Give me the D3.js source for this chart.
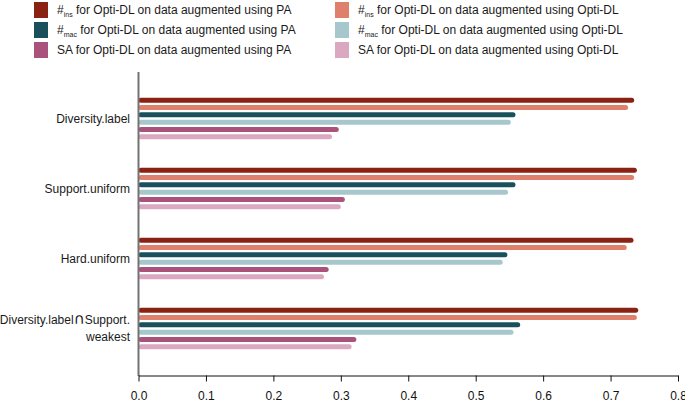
<!DOCTYPE html>
<html>
<head>
<meta charset="utf-8">
<script src="https://cdn.jsdelivr.net/npm/d3@7"></script>
<style>
  html, body { margin: 0; padding: 0; background: #fff; }
  svg { display: block; font-family: "Liberation Sans", Arial, Helvetica, sans-serif; }
</style>
</head>
<body>
<svg id="chart" width="685" height="401"></svg>
<script>
// ---- data ----
const categories = ["Diversity.label", "Support.uniform", "Hard.uniform", "Diversity.label\u2229Support.|weakest"];
const insPA   = [0.735, 0.739, 0.734, 0.741];
const insOpti = [0.726, 0.735, 0.724, 0.739];
const macPA   = [0.559, 0.559, 0.547, 0.566];
const macOpti = [0.552, 0.548, 0.540, 0.556];
const saPA    = [0.297, 0.306, 0.282, 0.323];
const saOpti  = [0.287, 0.300, 0.275, 0.316];
const seriesKeys = ["insPA", "insOpti", "macPA", "macOpti", "saPA", "saOpti"];
const seriesValues = [insPA, insOpti, macPA, macOpti, saPA, saOpti];
const seriesColors = ["#8a2213", "#de806c", "#1a505c", "#a6c7cc", "#a8527c", "#daa8c1"];
const legendMetric = ["#", "#", "SA"];
const legendSub = ["ins", "mac", ""];
const legendSuffix = ["PA", "Opti-DL"];
const xTicks = [0, 0.1, 0.2, 0.3, 0.4, 0.5, 0.6, 0.7, 0.8];

const svg = d3.select("#chart");
const x = d3.scaleLinear().domain([0, 0.8]).range([138.5, 678]);
const y = d3.scaleBand().domain(categories).range([72, 375]).paddingInner(0).paddingOuter(0.164);
const yInner = d3.scaleBand().domain(seriesKeys).range([-22, 22]);
const barH = 5;

// bars
seriesKeys.forEach((key, si) => {
  svg.append("g").selectAll("rect")
    .data(categories.map((c, ci) => ({ c, v: seriesValues[si][ci] })))
    .join("rect")
    .attr("x", x(0))
    .attr("y", d => y(d.c) + y.bandwidth() / 2 + yInner(key) + yInner.bandwidth() / 2 - barH / 2)
    .attr("width", d => x(d.v) - x(0))
    .attr("height", barH)
    .attr("rx", 2.5).attr("ry", 2.5)
    .attr("fill", seriesColors[si]);
});

// y axis line
svg.append("line")
  .attr("x1", x(0)).attr("x2", x(0))
  .attr("y1", 72).attr("y2", 376)
  .attr("stroke", "#737373").attr("stroke-width", 2);

// category labels
categories.forEach(c => {
  const lines = c.split("|");
  const cy = y(c) + y.bandwidth() / 2;
  const t = svg.append("text")
    .attr("text-anchor", "end")
    .attr("font-size", 12)
    .attr("fill", "#1a1a1a");
  lines.forEach((ln, i) => {
    const ts = t.append("tspan")
      .attr("x", 130)
      .attr("y", cy + 4.3 + (i - (lines.length - 1) / 2) * 17);
    const parts = ln.split("\u2229");
    parts.forEach((p, pi) => {
      if (pi > 0) ts.append("tspan").style("font-family", "'DejaVu Sans'").style("font-size", "15px").text("\u2229");
      ts.append("tspan").text(p);
    });
  });
});

// x axis
const xAxis = d3.axisBottom(x).tickValues(xTicks).tickFormat(d3.format(".1f")).tickSize(6).tickSizeOuter(0);
const gx = svg.append("g").attr("transform", "translate(0,375.5)").call(xAxis);
gx.select(".domain").attr("stroke", "#111");
gx.selectAll(".tick line").attr("stroke", "#111");
gx.selectAll(".tick text").attr("font-size", 12).attr("fill", "#111").attr("dy", "1.25em")
  .attr("font-family", "Liberation Sans, Arial, sans-serif");

// legend
const colX = [34, 335];
const rowY = [10, 30, 50];
for (let col = 0; col < 2; col++) {
  for (let row = 0; row < 3; row++) {
    const si = row * 2 + col;
    const g = svg.append("g");
    g.append("rect")
      .attr("x", colX[col]).attr("y", rowY[row] - 8)
      .attr("width", 14).attr("height", 16)
      .attr("fill", seriesColors[si]);
    const t = g.append("text")
      .attr("x", colX[col] + 23).attr("y", rowY[row] + 4.3)
      .attr("font-size", 12).attr("fill", "#1a1a1a");
    t.append("tspan").text(legendMetric[row]);
    if (legendSub[row]) {
      t.append("tspan").attr("font-size", 7).attr("dy", 3).text(legendSub[row]);
      t.append("tspan").attr("dy", -3).text(" for Opti-DL on data augmented using " + legendSuffix[col]);
    } else {
      t.append("tspan").text(" for Opti-DL on data augmented using " + legendSuffix[col]);
    }
  }
}
</script>
</body>
</html>
